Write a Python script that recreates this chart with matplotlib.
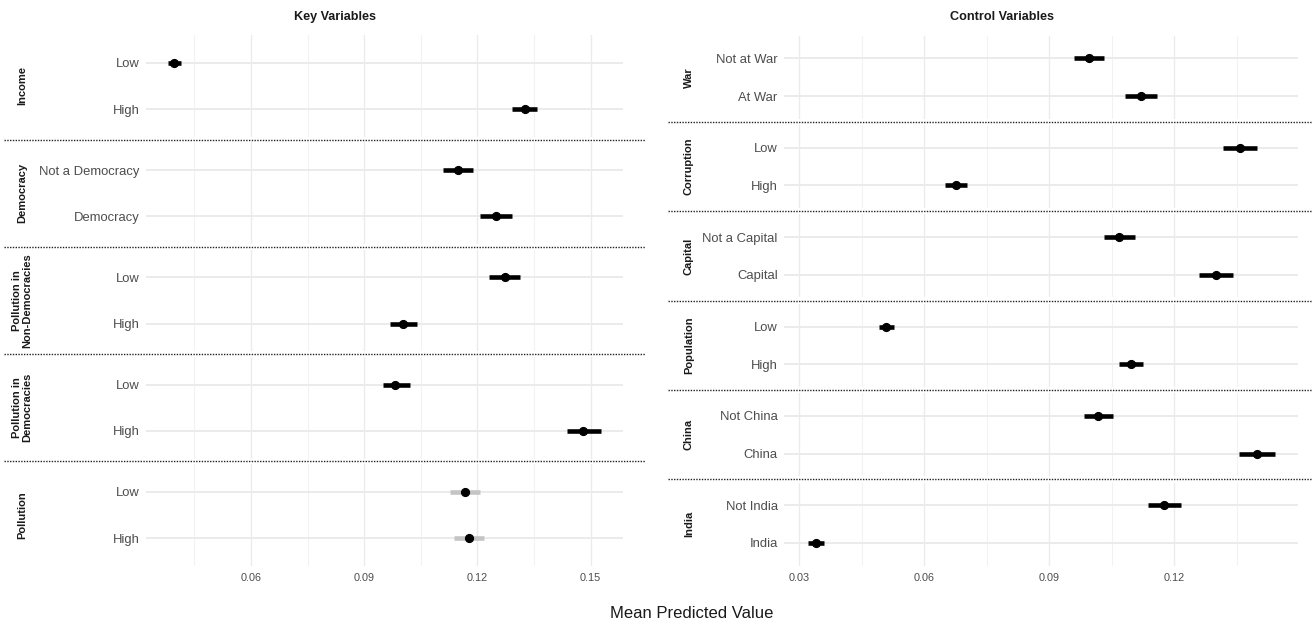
import matplotlib.pyplot as plt
from matplotlib.lines import Line2D

plt.rcParams['font.family'] = ['Liberation Sans', 'DejaVu Sans']

W, H = 1312, 626

# key variables: one entry per facet, two levels each
key_groups = ['Income', 'Democracy', 'Pollution in\nNon-Democracies',
              'Pollution in\nDemocracies', 'Pollution']
key_levels = [['Low', 'High'], ['Not a Democracy', 'Democracy'],
              ['Low', 'High'], ['Low', 'High'], ['Low', 'High']]
key_mean = [[0.0395, 0.1325], [0.1149, 0.1249], [0.1272, 0.1002],
            [0.0983, 0.1481], [0.1166, 0.1178]]
key_lower = [[0.0381, 0.1293], [0.1110, 0.1208], [0.1230, 0.0968],
             [0.0949, 0.1437], [0.1127, 0.1138]]
key_upper = [[0.0414, 0.1359], [0.1189, 0.1292], [0.1314, 0.1040],
             [0.1021, 0.1528], [0.1207, 0.1218]]
key_significant = [True, True, True, True, False]

# control variables
control_groups = ['War', 'Corruption', 'Capital', 'Population', 'China', 'India']
control_levels = [['Not at War', 'At War'], ['Low', 'High'],
                  ['Not a Capital', 'Capital'], ['Low', 'High'],
                  ['Not China', 'China'], ['Not India', 'India']]
control_mean = [[0.0995, 0.1120], [0.1358, 0.0675], [0.1067, 0.1300],
                [0.0508, 0.1096], [0.1018, 0.1399], [0.1175, 0.0339]]
control_lower = [[0.0960, 0.1082], [0.1318, 0.0649], [0.1031, 0.1259],
                 [0.0492, 0.1068], [0.0983, 0.1356], [0.1137, 0.0321]]
control_upper = [[0.1031, 0.1159], [0.1398, 0.0703], [0.1105, 0.1342],
                 [0.0526, 0.1126], [0.1054, 0.1442], [0.1215, 0.0358]]
control_significant = [True] * 6

major_ticks_key = [0.06, 0.09, 0.12, 0.15]
major_ticks_control = [0.03, 0.06, 0.09, 0.12]
minor_ticks = [0.045, 0.075, 0.105, 0.135]


def px(x, y):
    return x / W, 1 - y / H


def draw_column(fig, gs, groups, levels, means, lowers, uppers, significant,
                xlim, major, title, title_xy, strip_x, sep_x):
    axes = []
    for i, grp in enumerate(groups):
        ax = fig.add_subplot(gs[i, 0])
        ypos = list(range(len(levels[i])))
        bar_color = 'black' if significant[i] else '#c4c4c4'
        ax.hlines(ypos, lowers[i], uppers[i], color=bar_color, lw=3.3,
                  capstyle='butt', zorder=3)
        ax.plot(means[i], ypos, 'o', color='black', ms=5.6, zorder=4)
        ax.set_xlim(*xlim)
        ax.set_ylim(len(ypos) - 0.4, -0.6)
        ax.set_yticks(ypos)
        ax.set_yticklabels(levels[i])
        ax.set_xticks(major)
        ax.set_xticks(minor_ticks, minor=True)
        ax.grid(which='major', axis='x', color='#ebebeb', lw=1.0, zorder=0)
        ax.grid(which='minor', axis='x', color='#f2f2f2', lw=0.8, zorder=0)
        ax.grid(which='major', axis='y', color='#ebebeb', lw=1.4, zorder=0)
        ax.set_axisbelow(True)
        for s in ax.spines.values():
            s.set_visible(False)
        ax.tick_params(which='both', length=0)
        ax.tick_params(axis='y', labelsize=9.4, labelcolor='#4d4d4d', pad=4.5)
        ax.tick_params(axis='x', labelsize=7.8, labelcolor='#4d4d4d', pad=5)
        if i < len(groups) - 1:
            ax.set_xticklabels([])
        else:
            ax.set_xticklabels([f'{t:.2f}' for t in major])
        pos = ax.get_position()
        fig.text(strip_x / W, (pos.y0 + pos.y1) / 2, grp, rotation=90,
                 ha='center', va='center', fontsize=8, fontweight='bold',
                 color='#1a1a1a', linespacing=1.0)
        axes.append(ax)

    # dotted separators between facets
    for upper, lower in zip(axes[:-1], axes[1:]):
        y = (upper.get_position().y0 + lower.get_position().y1) / 2
        fig.add_artist(Line2D([sep_x[0] / W, sep_x[1] / W], [y, y],
                              transform=fig.transFigure, color='#222222',
                              lw=1.0, ls=(0, (1, 1))))

    tx, ty = px(*title_xy)
    fig.text(tx, ty, title, ha='center', va='center', fontsize=9.1,
             fontweight='bold', color='#1a1a1a')
    return axes


fig = plt.figure(figsize=(W / 100, H / 100), dpi=100)

gs_key = fig.add_gridspec(len(key_groups), 1, left=146 / W, right=623 / W,
                          top=1 - 35 / H, bottom=1 - 566 / H, hspace=0.053)
draw_column(fig, gs_key, key_groups, key_levels, key_mean, key_lower,
            key_upper, key_significant, (0.0322, 0.1586), major_ticks_key,
            'Key Variables', (335, 17), 22, (4, 645))

gs_ctrl = fig.add_gridspec(len(control_groups), 1, left=784 / W, right=1298 / W,
                           top=1 - 35.7 / H, bottom=1 - 565.6 / H, hspace=0.078)
draw_column(fig, gs_ctrl, control_groups, control_levels, control_mean,
            control_lower, control_upper, control_significant,
            (0.0263, 0.1497), major_ticks_control,
            'Control Variables', (1002, 17), 689, (668, 1312))

lx, ly = px(692, 613)
fig.text(lx, ly, 'Mean Predicted Value', ha='center', va='center',
         fontsize=12, color='#1a1a1a')

fig.savefig('out.png', dpi=100, facecolor='white')
